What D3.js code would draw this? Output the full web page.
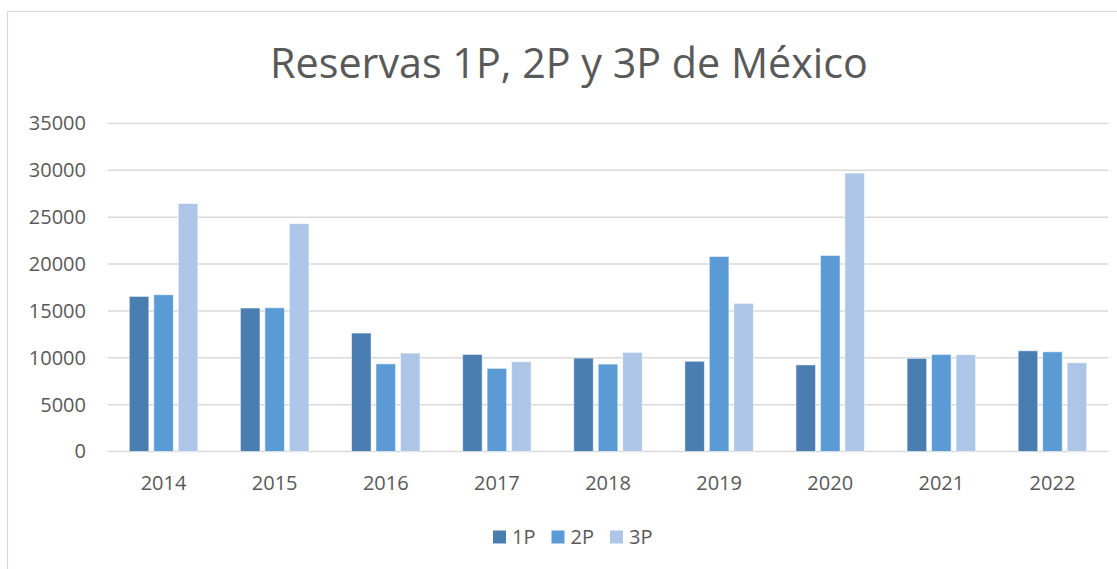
<!DOCTYPE html>
<html>
<head>
<meta charset="utf-8">
<script src="https://cdn.jsdelivr.net/npm/d3@7"></script>
<style>
  html, body { margin: 0; padding: 0; background: #fff; }
  svg { display: block; font-family: "Open Sans", "Noto Sans", sans-serif; }
</style>
</head>
<body>
<svg id="chart" width="1117" height="569"></svg>
<script>
// data
const years = ["2014", "2015", "2016", "2017", "2018", "2019", "2020", "2021", "2022"];
const series = ["1P", "2P", "3P"];
const reservas1P = [16550, 15310, 12640, 10360, 9970, 9630, 9240, 9940, 10750];
const reservas2P = [16730, 15340, 9350, 8870, 9330, 20810, 20920, 10360, 10640];
const reservas3P = [26460, 24320, 10500, 9580, 10580, 15810, 29710, 10330, 9470];
const yTicks = [0, 5000, 10000, 15000, 20000, 25000, 30000, 35000];
const colors = ["#4a7eb0", "#5b9bd5", "#adc5e7"];

const rows = years.map((y, i) => ({
  year: y,
  values: [reservas1P[i], reservas2P[i], reservas3P[i]]
}));

const svg = d3.select("#chart");
const margin = { left: 108, right: 9, top: 123.5, bottom: 117.5 };
const W = 1117, H = 569;
const labelSize = 20;

// chart frame (right and bottom edges run off the picture)
svg.append("rect")
  .attr("x", 7.5).attr("y", 11.5)
  .attr("width", 1130).attr("height", 600)
  .attr("fill", "none").attr("stroke", "#d9d9d9").attr("stroke-width", 1.2);

// title, fitted to the width it has in the reference
const title = svg.append("text")
  .attr("x", 569).attr("y", 78)
  .attr("text-anchor", "middle")
  .attr("fill", "#595959")
  .attr("font-size", 40)
  .text("Reservas 1P, 2P y 3P de México");
const tl = title.node().getComputedTextLength();
title.attr("font-size", 40 * 598 / tl);

const x0 = d3.scaleBand()
  .domain(years)
  .range([margin.left, W - margin.right])
  .paddingInner(0.383)
  .paddingOuter(0.1915);

const x1 = d3.scaleBand()
  .domain(series)
  .range([0, x0.bandwidth()])
  .paddingInner(0.2);

const y = d3.scaleLinear()
  .domain([0, 35000])
  .range([H - margin.bottom, margin.top]);

// gridlines
svg.append("g")
  .selectAll("line")
  .data(yTicks)
  .join("line")
  .attr("x1", margin.left).attr("x2", W - margin.right)
  .attr("y1", d => y(d)).attr("y2", d => y(d))
  .attr("stroke", "#d9d9d9")
  .attr("stroke-width", 1.5);

// y axis labels
const yAxis = svg.append("g")
  .attr("transform", `translate(${margin.left},0)`)
  .call(d3.axisLeft(y).tickValues(yTicks).tickSize(0).tickPadding(22).tickFormat(d3.format("d")));
yAxis.select(".domain").remove();
yAxis.selectAll("text")
  .attr("fill", "#595959")
  .attr("font-size", labelSize)
  .attr("font-family", "\"Open Sans\", sans-serif");

// x axis labels
const xAxis = svg.append("g")
  .attr("transform", `translate(0,${y(0)})`)
  .call(d3.axisBottom(x0).tickSize(0).tickPadding(24));
xAxis.select(".domain").remove();
xAxis.selectAll("text")
  .attr("fill", "#595959")
  .attr("font-size", labelSize)
  .attr("font-family", "\"Open Sans\", sans-serif");

// bars
svg.append("g")
  .selectAll("g")
  .data(rows)
  .join("g")
  .attr("transform", d => `translate(${x0(d.year)},0)`)
  .selectAll("rect")
  .data(d => d.values.map((v, i) => ({ key: series[i], value: v, i })))
  .join("rect")
  .attr("x", d => x1(d.key))
  .attr("y", d => y(d.value))
  .attr("width", x1.bandwidth())
  .attr("height", d => y(0) - y(d.value))
  .attr("fill", d => colors[d.i])
  .attr("stroke", "#ffffff")
  .attr("stroke-opacity", 0.55)
  .attr("stroke-width", 1);

// legend
const legend = svg.append("g")
  .attr("transform", "translate(493,530.5)");
const item = legend.selectAll("g")
  .data(series)
  .join("g")
  .attr("transform", (d, i) => `translate(${i * 58.5},0)`);
item.append("rect")
  .attr("width", 13).attr("height", 13)
  .attr("fill", (d, i) => colors[i]);
item.append("text")
  .attr("x", 19).attr("y", 13.5)
  .attr("fill", "#595959")
  .attr("font-size", labelSize)
  .text(d => d);
</script>
</body>
</html>
